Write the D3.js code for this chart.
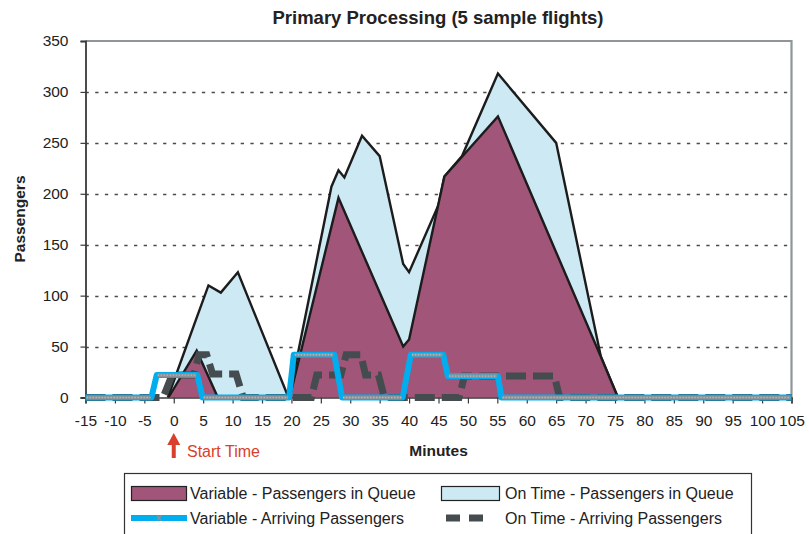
<!DOCTYPE html>
<html>
<head>
<meta charset="utf-8">
<script src="https://cdn.jsdelivr.net/npm/d3@7"></script>
<style>
  html, body { margin: 0; padding: 0; background: #fff; }
  svg { display: block; font-family: "Liberation Sans", Arial, Helvetica, sans-serif; }
</style>
</head>
<body>
<svg id="chart" width="809" height="534"></svg>
<script>
// Minutes relative to start time, and passenger counts
const xTicks = d3.range(-15, 106, 5);
const yTicks = [0, 50, 100, 150, 200, 250, 300, 350];

// On Time - Passengers in Queue
const onTimeQueueMin = [-1, 3.5, 5.9, 8, 10.9, 19.5, 19.6, 26.8, 28, 29, 32, 35, 39, 40, 45, 46, 49, 55.1, 65, 72.6, 75.5];
const onTimeQueue    = [0, 72, 110, 103, 123, 0, 0, 207, 223, 216, 257, 237, 131, 123, 189, 217, 237, 318, 250, 40, 0];

// Variable - Passengers in Queue
const variableQueueMin = [-0.9, 3.9, 7.5, 19.7, 28, 39, 40, 46, 55.1, 72.6, 75.5];
const variableQueue    = [0, 46, 0, 0, 196, 50, 57, 217, 276, 40, 0];

// Variable - Arriving Passengers
const variableArrMin = [-15, -3.8, -2.9, 4.0, 4.9, 19.6, 20.4, 27.3, 28.6, 38.9, 40.3, 45.8, 46.6, 55.1, 55.7, 105];
const variableArr    = [0, 0, 22, 22, 0, 0, 42, 42, 0, 0, 42, 42, 21, 21, 0, 0];

// On Time - Arriving Passengers
const onTimeArrMin = [-15, -1.8, -0.3, 3.4, 4.3, 5.6, 6.6, 10.6, 11.8, 23.4, 24.3, 28.4, 29.3, 31.8, 32.6, 34.8, 35.8, 48.5, 49.4, 64.7, 65.6, 105];
const onTimeArr    = [0, 0, 22, 22, 42, 42, 23, 23, 0, 0, 22, 22, 42, 42, 22, 22, 0, 0, 21, 21, 0, 0];

const zip = (xs, ys) => xs.map((m, i) => [m, ys[i]]);

const colors = {
  variableQueue: "#a15579",
  onTimeQueue: "#cce9f4",
  variableArr: "#00adee",
  marker: "#8b9398",
  onTimeArr: "#454c4f",
  outline: "#1c1c1c",
  red: "#d9402b"
};

const svg = d3.select("#chart");
const x = d3.scaleLinear().domain([-15, 105]).range([85.5, 791.5]);
const y = d3.scaleLinear().domain([0, 350]).range([397.5, 41]);

// Title
svg.append("text").attr("x", 438).attr("y", 24).attr("text-anchor", "middle")
  .attr("font-size", 18.5).attr("font-weight", "bold").attr("fill", "#222")
  .text("Primary Processing (5 sample flights)");

// Dotted horizontal gridlines
svg.append("g").selectAll("line").data(yTicks.filter(v => v > 0 && v < 350)).join("line")
  .attr("x1", x(-15)).attr("x2", x(105))
  .attr("y1", d => Math.round(y(d)) + 0.5).attr("y2", d => Math.round(y(d)) + 0.5)
  .attr("stroke", "#4a4a4a").attr("stroke-width", 1.6).attr("stroke-dasharray", "3.3,6.4");

// Plot frame (top and right)
svg.append("path")
  .attr("d", `M${x(-15)},${y(350)}H${x(105)}V${y(0) + 2}`)
  .attr("fill", "none").attr("stroke", "#8e969b").attr("stroke-width", 2.2);

// Queue areas
const area = d3.area().x(d => x(d[0])).y0(y(0)).y1(d => y(d[1]));
const line = d3.line().x(d => x(d[0])).y(d => y(d[1]));

const onTimeQ = zip(onTimeQueueMin, onTimeQueue);
const varQ = zip(variableQueueMin, variableQueue);

svg.append("path").attr("d", area(onTimeQ)).attr("fill", colors.onTimeQueue);
svg.append("path").attr("d", line(onTimeQ)).attr("fill", "none")
  .attr("stroke", colors.outline).attr("stroke-width", 2.4).attr("stroke-linejoin", "miter");
svg.append("path").attr("d", area(varQ)).attr("fill", colors.variableQueue);
svg.append("path").attr("d", line(varQ)).attr("fill", "none")
  .attr("stroke", colors.outline).attr("stroke-width", 2.4).attr("stroke-linejoin", "miter");

// Axes (plain hyphen for negative minutes)
const fmt = d => String(d);
const yAxis = d3.axisLeft(y).tickValues(yTicks).tickSize(5).tickPadding(12).tickFormat(fmt);
const gy = svg.append("g").attr("transform", `translate(${x(-15)},0)`).call(yAxis);
gy.select(".domain").attr("stroke", "#3a3a3a").attr("stroke-width", 1.8);
gy.selectAll(".tick line").attr("stroke", "#3a3a3a").attr("stroke-width", 1.2);
gy.selectAll(".tick text").attr("font-size", 15.5).attr("fill", "#222")
  .attr("font-family", "Liberation Sans, Arial, sans-serif");

const xAxis = d3.axisBottom(x).tickValues(xTicks).tickSize(6).tickPadding(11).tickFormat(fmt);
const gx = svg.append("g").attr("transform", `translate(0,${y(0)})`).call(xAxis);
gx.select(".domain").attr("stroke", "#3a3a3a").attr("stroke-width", 1.5);
gx.selectAll(".tick line").attr("stroke", "#3a3a3a").attr("stroke-width", 1.2);
gx.selectAll(".tick text").attr("font-size", 15.5).attr("fill", "#222")
  .attr("font-family", "Liberation Sans, Arial, sans-serif");

// On Time arrivals: thick dark dashed line
const onTimeA = zip(onTimeArrMin, onTimeArr);
svg.append("path").attr("d", line(onTimeA)).attr("fill", "none")
  .attr("stroke", colors.onTimeArr).attr("stroke-width", 7)
  .attr("stroke-dasharray", "20,7").attr("stroke-linejoin", "miter");

// Variable arrivals: thick cyan line with grey markers along level stretches
const varA = zip(variableArrMin, variableArr);
svg.append("path").attr("d", line(varA)).attr("fill", "none")
  .attr("stroke", colors.variableArr).attr("stroke-width", 6)
  .attr("stroke-linejoin", "round").attr("stroke-linecap", "butt");

const levels = d3.pairs(varA).filter(([a, b]) => a[1] === b[1]);
const mk = svg.append("g");
mk.selectAll("line.base").data(levels).join("line").attr("class", "base")
  .attr("x1", d => x(d[0][0]) + 1).attr("x2", d => x(d[1][0]) - 1)
  .attr("y1", d => y(d[0][1])).attr("y2", d => y(d[1][1]))
  .attr("stroke", colors.marker).attr("stroke-width", 3.6);
mk.selectAll("line.dots").data(levels).join("line").attr("class", "dots")
  .attr("x1", d => x(d[0][0]) + 1).attr("x2", d => x(d[1][0]) - 1)
  .attr("y1", d => y(d[0][1])).attr("y2", d => y(d[1][1]))
  .attr("stroke", "#b3babe").attr("stroke-width", 1.4).attr("stroke-dasharray", "1.4,1.6");

// Axis titles
svg.append("text").attr("transform", "translate(25,219) rotate(-90)")
  .attr("text-anchor", "middle").attr("font-size", 15.5).attr("font-weight", "bold").attr("fill", "#222")
  .text("Passengers");
svg.append("text").attr("x", 438.5).attr("y", 456).attr("text-anchor", "middle")
  .attr("font-size", 15.5).attr("font-weight", "bold").attr("fill", "#222")
  .text("Minutes");

// Start time marker
const sx = x(0);
svg.append("path")
  .attr("d", `M${sx},433 L${sx + 6.5},445 L${sx + 2},445 L${sx + 2},458 L${sx - 2},458 L${sx - 2},445 L${sx - 6.5},445 Z`)
  .attr("fill", colors.red);
svg.append("text").attr("x", 187).attr("y", 456.5).attr("font-size", 16).attr("fill", colors.red)
  .text("Start Time");

// Legend
const lg = svg.append("g");
lg.append("rect").attr("x", 124.5).attr("y", 473.5).attr("width", 627).attr("height", 80)
  .attr("fill", "#fff").attr("stroke", "#333").attr("stroke-width", 1.2);

lg.append("rect").attr("x", 131.5).attr("y", 486.5).attr("width", 55).attr("height", 14)
  .attr("fill", colors.variableQueue).attr("stroke", "#222").attr("stroke-width", 1.2);
lg.append("rect").attr("x", 441.5).attr("y", 486.5).attr("width", 58).attr("height", 14)
  .attr("fill", colors.onTimeQueue).attr("stroke", "#222").attr("stroke-width", 1.2);

lg.append("line").attr("x1", 131).attr("x2", 187).attr("y1", 518).attr("y2", 518)
  .attr("stroke", colors.variableArr).attr("stroke-width", 6);
lg.append("path").attr("d", "M157,515.5 l4,5 M161,515.5 l-4,5")
  .attr("stroke", colors.marker).attr("stroke-width", 1.6);

lg.append("line").attr("x1", 446).attr("x2", 488).attr("y1", 518).attr("y2", 518)
  .attr("stroke", colors.onTimeArr).attr("stroke-width", 7).attr("stroke-dasharray", "14,9");

const legendText = [
  { x: 190, y: 499, t: "Variable - Passengers in Queue" },
  { x: 505, y: 499, t: "On Time - Passengers in Queue" },
  { x: 190, y: 524, t: "Variable - Arriving Passengers" },
  { x: 505, y: 524, t: "On Time - Arriving Passengers" }
];
lg.selectAll("text").data(legendText).join("text")
  .attr("x", d => d.x).attr("y", d => d.y).attr("font-size", 16).attr("fill", "#222")
  .text(d => d.t);
</script>
</body>
</html>
